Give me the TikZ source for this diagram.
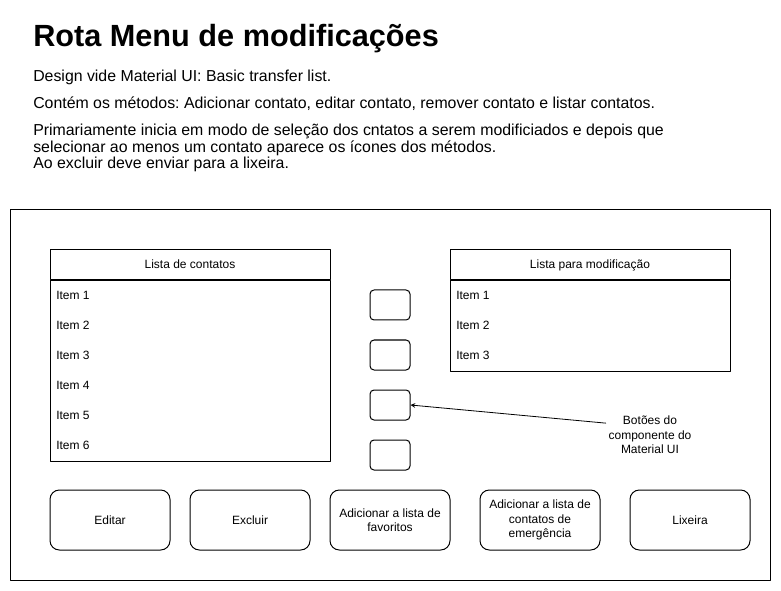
\documentclass[tikz,border=0pt]{standalone}
\usepackage{fontspec}
\setmainfont{Liberation Sans}
\usetikzlibrary{positioning}
\frenchspacing
\begin{document}
\begin{tikzpicture}[x=0.75pt, y=-0.75pt, line cap=round, line join=round, >=stealth, font=\fontsize{9}{10.8}\selectfont]
	\tikzset{cabeca/.style={draw, line width=0.75pt, minimum width=210pt, minimum height=22.5pt, inner sep=0pt, text height=6.6pt, text depth=2pt},
		corpo/.style={draw, line width=0.75pt, minimum width=210pt, anchor=north, inner sep=0pt},
		item/.style={anchor=west, inner sep=0pt},
		botao/.style={draw, line width=0.75pt, rounded corners=3pt, minimum width=30pt, minimum height=22.5pt, inner sep=0pt},
		acao/.style={draw, line width=0.75pt, rounded corners=7pt, minimum width=90pt, minimum height=45pt, align=center, inner sep=2pt},
		texto/.style={anchor=base west, inner sep=0pt, font=\fontsize{11.9}{14}\selectfont}}
	\useasboundingbox (0,0) rectangle (781,591);
	% titulo e descricao
	\node[anchor=base west, inner sep=0pt, font=\fontsize{23}{27}\selectfont\bfseries] (titulo) at (33,47) {Rota Menu de modificações};
	\node[texto] (design) at (33,82) {Design vide Material UI: Basic transfer list.};
	\node[texto] (metodos) at (33,109) {Contém os métodos: Adicionar contato, editar contato, remover contato e listar contatos.};
	\node[texto] (modo1) at (33,136) {Primariamente inicia em modo de seleção dos cntatos a serem modificiados e depois que};
	\node[texto] (modo2) at (33,152.5) {selecionar ao menos um contato aparece os ícones dos métodos.};
	\node[texto] (modo3) at (33,169) {Ao excluir deve enviar para a lixeira.};
	% moldura
	\draw[line width=0.75pt] (10,210) rectangle (770,580);
	% listas
	\node[cabeca] (listaC) at (190,265) {Lista de contatos};
	\node[corpo, minimum height=135pt] (corpoC) at (listaC.south) {};
	\foreach \i in {1,...,6}
		\node[item] (c\i) at (56,265+30*\i) {Item \i};
	\node[cabeca] (listaM) at (590,265) {Lista para modificação};
	\node[corpo, minimum height=67.5pt] (corpoM) at (listaM.south) {};
	\foreach \i in {1,2,3}
		\node[item] (m\i) at (456,265+30*\i) {Item \i};
	% botoes do componente
	\foreach \i in {1,...,4}
		\node[botao] (b\i) at (390,255+50*\i) {};
	\node[align=center, inner sep=2pt] (nota) at (650,435) {Botões do\\componente do\\Material UI};
	\draw[->, line width=0.6pt] (nota.165) -- (b3.east);
	% acoes
	\node[acao] (editar) at (110,520) {Editar};
	\node[acao] (excluir) at (250,520) {Excluir};
	\node[acao] (favoritos) at (390,520) {Adicionar a lista de\\favoritos};
	\node[acao] (emergencia) at (540,520) {Adicionar a lista de\\contatos de\\emergência};
	\node[acao] (lixeira) at (690,520) {Lixeira};
\end{tikzpicture}
\end{document}
